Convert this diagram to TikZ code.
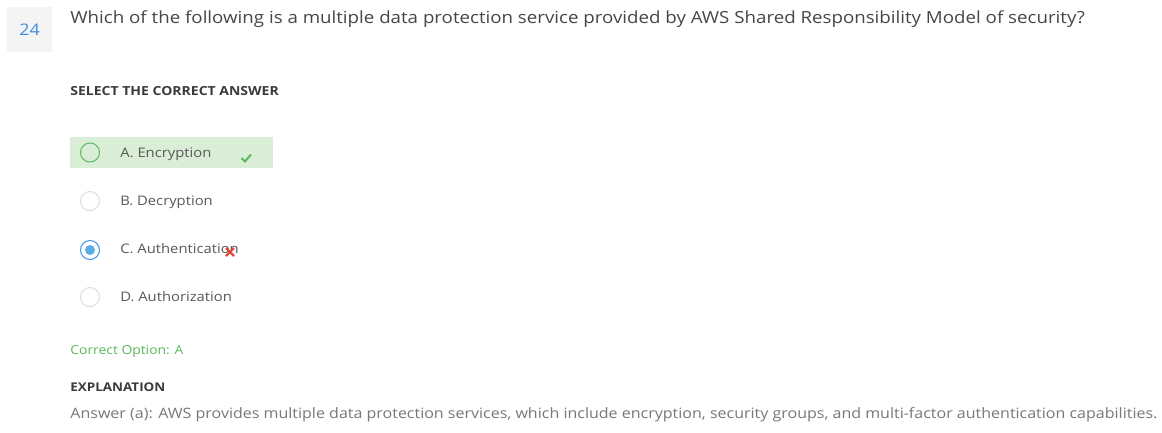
\documentclass[tikz,border=0pt]{standalone}
\usepackage{fontspec}
\setmainfont{Open Sans}[FakeStretch=1.12]
\usepackage{xcolor}
\usetikzlibrary{positioning}
\definecolor{qtext}{HTML}{464646}
\definecolor{opttext}{HTML}{595959}
\definecolor{anstext}{HTML}{787878}
\definecolor{okgreen}{HTML}{5CB85C}
\definecolor{okfill}{HTML}{DAEDD6}
\definecolor{numblue}{HTML}{3C8FE0}
\definecolor{selblue}{HTML}{3D95E8}
\definecolor{dotblue}{HTML}{5AADE6}
\definecolor{radiogray}{HTML}{DDDDDD}
\definecolor{numbox}{HTML}{F4F4F4}
\definecolor{wrongred}{HTML}{E04A3A}

\begin{document}
\begin{tikzpicture}[x=1pt, y=-1pt, thick,
    txt/.style={anchor=base west, inner sep=0pt, text=opttext, font=\fontsize{13.2}{15}\selectfont},
    head/.style={anchor=base west, inner sep=0pt, text=qtext!85!black, font=\fontsize{12.2}{14}\selectfont\bfseries},
    radio/.style={draw=radiogray, line width=1pt, circle, minimum size=19pt, inner sep=0pt}]
    \useasboundingbox (0,0) rectangle (1162,432);
    \fill [white] (0,0) rectangle (1162,432);

    % question number and question
    \node [fill=numbox, minimum size=45pt, inner sep=0pt] (num) at (29.5,29.5) {};
    \node [text=numblue, font=\fontsize{16}{18}\selectfont] at (num) {24};
    \node [anchor=base west, inner sep=0pt, text=qtext, font=\fontsize{16.7}{18}\selectfont] (quest) at (70,23)
        {Which of the following is a multiple data protection service provided by AWS Shared Responsibility Model of security?};

    \node [head, font=\fontsize{12.5}{14}\selectfont\bfseries] (select) at (70,95) {SELECT THE CORRECT ANSWER};

    % answer options
    \fill [okfill] (70,137) rectangle (273,168);
    \node [radio, draw=okgreen] (circA) at (90,152.5) {};
    \node [txt] (optA) at (120,157.3) {A. Encryption};
    \draw [okgreen, line width=2pt] (241.5,158) -- (245,161.5) -- (251,154.5);

    \node [radio] (circB) at (90,201) {};
    \node [txt] (optB) at (120,205.7) {B. Decryption};

    \node [radio, draw=selblue] (circC) at (90,250) {};
    \node [circle, fill=dotblue, minimum size=10pt, inner sep=0pt] (dotC) at (circC) {};
    \node [txt] (optC) at (120,253.3) {C. Authentication};
    \draw [wrongred, line width=2.2pt] (226,248) -- (234,256) (234,248) -- (226,256);

    \node [radio] (circD) at (90,297) {};
    \node [txt] (optD) at (120,301.7) {D. Authorization};

    % result and explanation
    \node [anchor=base west, inner sep=0pt, text=okgreen, font=\fontsize{12.4}{14}\selectfont] (result) at (70,354.3) {Correct Option: A};
    \node [head, font=\fontsize{12}{14}\selectfont\bfseries] (expl) at (70,391) {EXPLANATION};
    \node [anchor=base west, inner sep=0pt, text=anstext, font=\fontsize{14.3}{16}\selectfont] (answer) at (70,418.3)
        {Answer (a): AWS provides multiple data protection services, which include encryption, security groups, and multi-factor authentication capabilities.};
\end{tikzpicture}
\end{document}
